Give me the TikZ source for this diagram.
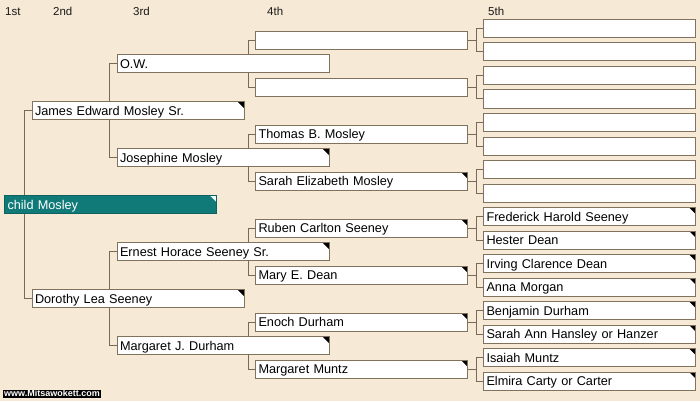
\documentclass[tikz,border=0pt]{standalone}
\usepackage{fontspec}
\setmainfont{Liberation Sans}
\usetikzlibrary{backgrounds}

\definecolor{paper}{RGB}{246,234,214}
\definecolor{boxline}{RGB}{128,114,92}
\definecolor{linkcol}{RGB}{120,106,86}
\definecolor{childteal}{RGB}{16,122,120}

\tikzset{
  person/.style={draw=boxline, fill=white, line width=1pt, anchor=west,
    minimum height=18pt, text width=206pt, inner xsep=3pt, inner ysep=0pt,
    text height=9pt, text depth=0pt, align=left,
    font=\fontsize{12.7}{14}\selectfont},
  known/.style={path picture={\fill[#1] (path picture bounding box.north east)
    -- ++(-6.5,0) -- ++(6.5,6.5) -- cycle;}},
  known/.default=black,
  link/.style={draw=linkcol, line width=1pt},
  gen/.style={anchor=base west, inner sep=0pt, text=black!90,
    font=\fontsize{11.5}{12}\selectfont}
}

\begin{document}
\begin{tikzpicture}[x=1pt, y=-1pt]
\useasboundingbox (0,0) rectangle (700,401);

% generation heads
\node[gen] (h1) at (5,15.7) {1st};
\node[gen] (h2) at (53,15.7) {2nd};
\node[gen] (h3) at (133,15.7) {3rd};
\node[gen] (h4) at (267,15.7) {4th};
\node[gen] (h5) at (488,15.7) {5th};

% 1st and 2nd
\node[person, fill=childteal, draw=childteal!80!black, text=white, known=cyan!8] (p1) at (4,204.75) {child Mosley};
\node[person, known] (p2) at (31.5,110.75) {James Edward Mosley Sr.};
\node[person, known] (p3) at (31.5,298.75) {Dorothy Lea Seeney};

% 3rd
\node[person] (p4) at (116.5,63.75) {O.W.};
\node[person, known] (p5) at (116.5,157.75) {Josephine Mosley};
\node[person, known] (p6) at (116.5,251.75) {Ernest Horace Seeney Sr.};
\node[person, known] (p7) at (116.5,345.75) {Margaret J. Durham};

% 4th
\node[person] (p8) at (255,40.25) {};
\node[person] (p9) at (255,87.25) {};
\node[person] (p10) at (255,134.25) {Thomas B. Mosley};
\node[person, known] (p11) at (255,181.25) {Sarah Elizabeth Mosley};
\node[person, known] (p12) at (255,228.25) {Ruben Carlton Seeney};
\node[person, known] (p13) at (255,275.25) {Mary E. Dean};
\node[person, known] (p14) at (255,322.25) {Enoch Durham};
\node[person, known] (p15) at (255,369.25) {Margaret Muntz};

% 5th
\node[person] (p16) at (483,28.5) {};
\node[person] (p17) at (483,52) {};
\node[person] (p18) at (483,75.5) {};
\node[person] (p19) at (483,99) {};
\node[person] (p20) at (483,122.5) {};
\node[person] (p21) at (483,146) {};
\node[person] (p22) at (483,169.5) {};
\node[person] (p23) at (483,193) {};
\node[person, known] (p24) at (483,216.5) {Frederick Harold Seeney};
\node[person, known] (p25) at (483,240) {Hester Dean};
\node[person, known] (p26) at (483,263.5) {Irving Clarence Dean};
\node[person, known] (p27) at (483,287) {Anna Morgan};
\node[person, known] (p28) at (483,310.5) {Benjamin Durham};
\node[person, known] (p29) at (483,334) {Sarah Ann Hansley or Hanzer};
\node[person, known] (p30) at (483,357.5) {Isaiah Muntz};
\node[person, known] (p31) at (483,381) {Elmira Carty or Carter};

\node[fill=black, text=white, anchor=west, inner xsep=1.5pt, inner ysep=0.5pt,
  text height=6.5pt, text depth=0.5pt, font=\bfseries\fontsize{9}{9}\selectfont]
  (site) at (2.5,393.7) {www.Mitsawokett.com};

\begin{pgfonlayer}{background}
\fill[paper] (0,0) rectangle (700,401);

\draw[link] (p1.center) -| ([xshift=-7pt]p2.west) -- (p2.west) ([xshift=-7pt]p2.west) |- (p3.west);
\draw[link] (p2.center) -| ([xshift=-7pt]p4.west) -- (p4.west) ([xshift=-7pt]p4.west) |- (p5.west);
\draw[link] (p3.center) -| ([xshift=-7pt]p6.west) -- (p6.west) ([xshift=-7pt]p6.west) |- (p7.west);
\draw[link] (p4.center) -| ([xshift=-7pt]p8.west) -- (p8.west) ([xshift=-7pt]p8.west) |- (p9.west);
\draw[link] (p5.center) -| ([xshift=-7pt]p10.west) -- (p10.west) ([xshift=-7pt]p10.west) |- (p11.west);
\draw[link] (p6.center) -| ([xshift=-7pt]p12.west) -- (p12.west) ([xshift=-7pt]p12.west) |- (p13.west);
\draw[link] (p7.center) -| ([xshift=-7pt]p14.west) -- (p14.west) ([xshift=-7pt]p14.west) |- (p15.west);
\draw[link] (p8.center) -| ([xshift=-7pt]p16.west) -- (p16.west) ([xshift=-7pt]p16.west) |- (p17.west);
\draw[link] (p9.center) -| ([xshift=-7pt]p18.west) -- (p18.west) ([xshift=-7pt]p18.west) |- (p19.west);
\draw[link] (p10.center) -| ([xshift=-7pt]p20.west) -- (p20.west) ([xshift=-7pt]p20.west) |- (p21.west);
\draw[link] (p11.center) -| ([xshift=-7pt]p22.west) -- (p22.west) ([xshift=-7pt]p22.west) |- (p23.west);
\draw[link] (p12.center) -| ([xshift=-7pt]p24.west) -- (p24.west) ([xshift=-7pt]p24.west) |- (p25.west);
\draw[link] (p13.center) -| ([xshift=-7pt]p26.west) -- (p26.west) ([xshift=-7pt]p26.west) |- (p27.west);
\draw[link] (p14.center) -| ([xshift=-7pt]p28.west) -- (p28.west) ([xshift=-7pt]p28.west) |- (p29.west);
\draw[link] (p15.center) -| ([xshift=-7pt]p30.west) -- (p30.west) ([xshift=-7pt]p30.west) |- (p31.west);

% stubs toward the 6th
\draw[link] ([xshift=4pt]p24.north east) -- ++(0,7);
\draw[link] ([xshift=4pt]p25.north east) -- ++(0,7);
\draw[link] ([xshift=4pt]p26.north east) -- ++(0,7);
\draw[link] ([xshift=4pt]p27.north east) -- ++(0,7);
\draw[link] ([xshift=4pt]p28.north east) -- ++(0,7);
\draw[link] ([xshift=4pt]p29.north east) -- ++(0,7);
\draw[link] ([xshift=4pt]p30.north east) -- ++(0,7);
\draw[link] ([xshift=4pt]p31.north east) -- ++(0,7);
\end{pgfonlayer}

\end{tikzpicture}
\end{document}
